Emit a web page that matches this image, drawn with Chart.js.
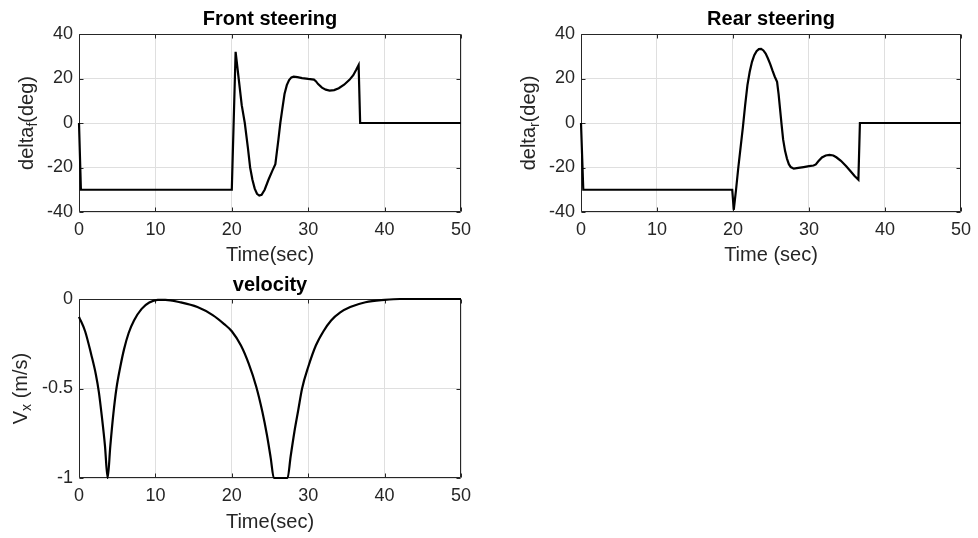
<!DOCTYPE html>
<html>
<head>
<meta charset="utf-8">
<script src="https://cdn.jsdelivr.net/npm/chart.js@4.4.1/dist/chart.umd.min.js"></script>
<style>
  html, body { margin: 0; padding: 0; background: #ffffff; }
  body { width: 978px; height: 538px; position: relative; overflow: hidden; }
  canvas { position: absolute; }
</style>
</head>
<body>
<canvas id="cFront" width="489" height="270" style="left:0;top:0;width:489px;height:270px"></canvas>
<canvas id="cRear" width="489" height="270" style="left:489px;top:0;width:489px;height:270px"></canvas>
<canvas id="cVel" width="489" height="268" style="left:0;top:270px;width:489px;height:268px"></canvas>
<script>
// ---------- data ----------
const timeFront  = [0, 0.25, 20, 20.5, 20.9, 21.3, 21.7, 22.1, 22.4, 22.7, 23.0, 23.3, 23.6, 23.9, 24.3, 24.8, 25.3, 25.7, 25.9, 26.1, 26.35, 26.6, 26.9, 27.2, 27.5, 27.8, 28.1, 28.6, 29.2, 30.0, 30.75, 31.0, 31.3, 31.8, 32.3, 32.8, 33.4, 34.0, 34.7, 35.4, 35.9, 36.3, 36.6, 36.8, 50];
const deltaFront = [0, -30, -30, 32, 20, 8, 0, -11, -20, -25.5, -29.5, -31.8, -32.6, -32.3, -30, -25.5, -21.5, -18.5, -13, -7.5, 0, 6, 13, 17, 19.3, 20.5, 20.8, 20.6, 20.2, 19.8, 19.5, 18.8, 17.5, 15.9, 15, 14.6, 14.8, 15.6, 17.2, 19.4, 21.5, 24, 26, 0, 0];

const timeRear  = [0, 0.3, 19.9, 20.1, 20.4, 20.7, 21.0, 21.3, 21.6, 21.9, 22.2, 22.5, 22.8, 23.1, 23.4, 23.7, 24.0, 24.3, 24.6, 24.9, 25.2, 25.5, 25.8, 26.0, 26.2, 26.4, 26.6, 26.85, 27.1, 27.35, 27.6, 28.0, 28.6, 29.3, 30.0, 30.6, 30.9, 31.2, 31.7, 32.2, 32.7, 33.2, 33.6, 34.2, 34.9, 35.5, 36.0, 36.5, 36.7, 50];
const deltaRear = [0, -30, -30, -39, -30, -20, -11, -2, 8, 17, 23, 27.5, 30.5, 32.3, 33.2, 33.3, 32.6, 31.2, 29, 26.5, 23.5, 20.8, 18.5, 13, 6, -1, -7.5, -12.5, -16, -18.5, -19.8, -20.5, -20.2, -19.8, -19.4, -19.1, -18.6, -17.3, -15.5, -14.6, -14.3, -14.6, -15.4, -17, -19.4, -21.8, -23.8, -25.5, 0, 0];

const timeVel  = [0, 0.8, 1.6, 2.2, 2.6, 3.0, 3.4, 3.75, 4.1, 4.5, 4.9, 5.4, 5.9, 6.5, 7.2, 8.2, 9.2, 10.3, 11.3, 13.2, 15.5, 17.5, 19, 20, 21.2, 22.2, 23.2, 24.0, 24.6, 25.1, 25.5, 27.3, 27.7, 28.2, 28.7, 29.2, 30.0, 31.0, 32.0, 33.0, 34.2, 35.5, 37.5, 40, 42, 50];
const velocity = [-0.1, -0.18, -0.31, -0.42, -0.52, -0.66, -0.82, -1.0, -0.82, -0.64, -0.5, -0.38, -0.28, -0.19, -0.12, -0.055, -0.02, -0.005, -0.005, -0.018, -0.045, -0.09, -0.14, -0.18, -0.26, -0.36, -0.49, -0.63, -0.76, -0.89, -1.0, -1.0, -0.88, -0.74, -0.62, -0.5, -0.38, -0.26, -0.18, -0.12, -0.075, -0.045, -0.018, -0.005, 0, 0];

const xTicks = [0, 10, 20, 30, 40, 50];
const steerTicks = [-40, -20, 0, 20, 40];
const velTicks = [-1, -0.5, 0];

const titles = ['Front steering', 'Rear steering', 'velocity'];
const xLabels = ['Time(sec)', 'Time (sec)', 'Time(sec)'];
const yLabelParts = [['delta', 'f', '(deg)'], ['delta', 'r', '(deg)'], ['V', 'x', ' (m/s)']];

// ---------- styling ----------
const FONT = "'Liberation Sans', Arial, Helvetica, sans-serif";
const TEXT = '#262626';
const GRID = '#dfdfdf';

const boxPlugin = {
  id: 'axbox',
  beforeDatasetsDraw(chart) {
    const { ctx, chartArea: a, scales } = chart;
    ctx.save();
    ctx.strokeStyle = TEXT;
    ctx.lineWidth = 1;
    const L = Math.round(a.left) + 0.5, R = Math.round(a.right) - 0.5;
    const T = Math.round(a.top) + 0.5, B = Math.round(a.bottom) - 0.5;
    ctx.beginPath();
    ctx.rect(L, T, R - L, B - T);
    const tl = 4;
    scales.x.ticks.forEach(t => {
      const px = Math.round(scales.x.getPixelForValue(t.value)) + 0.5;
      ctx.moveTo(px, B); ctx.lineTo(px, B - tl);
      ctx.moveTo(px, T); ctx.lineTo(px, T + tl);
    });
    scales.y.ticks.forEach(t => {
      const py = Math.round(scales.y.getPixelForValue(t.value)) + 0.5;
      ctx.moveTo(L, py); ctx.lineTo(L + tl, py);
      ctx.moveTo(R, py); ctx.lineTo(R - tl, py);
    });
    ctx.stroke();
    ctx.restore();
  }
};

const textPlugin = {
  id: 'axtext',
  afterDraw(chart, args, o) {
    const { ctx, chartArea: a } = chart;
    // title centred over the axes box
    ctx.save();
    ctx.fillStyle = '#000000';
    ctx.font = 'bold 20px ' + FONT;
    ctx.textAlign = 'center';
    ctx.textBaseline = 'middle';
    ctx.fillText(o.title, (a.left + a.right) / 2, o.titleY);
    ctx.restore();
    // y label with subscript
    const parts = o.parts;
    const cy = (a.top + a.bottom) / 2;
    const big = '20px ' + FONT, small = '14px ' + FONT;
    ctx.save();
    ctx.translate(o.x, cy);
    ctx.rotate(-Math.PI / 2);
    ctx.fillStyle = TEXT;
    ctx.textBaseline = 'middle';
    ctx.textAlign = 'left';
    ctx.font = big; const w0 = ctx.measureText(parts[0]).width; const w2 = ctx.measureText(parts[2]).width;
    ctx.font = small; const w1 = ctx.measureText(parts[1]).width;
    let x = -(w0 + w1 + w2) / 2;
    ctx.font = big; ctx.fillText(parts[0], x, 0); x += w0;
    ctx.font = small; ctx.fillText(parts[1], x, 6); x += w1;
    ctx.font = big; ctx.fillText(parts[2], x, 0);
    ctx.restore();
  }
};

function makeChart(id, xs, ys, cfg) {
  const pts = xs.map((x, i) => ({ x: x, y: ys[i] }));
  return new Chart(document.getElementById(id), {
    type: 'line',
    data: { datasets: [{
      data: pts,
      borderColor: '#000000',
      borderWidth: 2.2,
      pointRadius: 0,
      fill: false,
      clip: 3,
      tension: cfg.smooth ? 0.4 : 0,
      cubicInterpolationMode: cfg.smooth ? 'monotone' : 'default'
    }] },
    options: {
      responsive: false,
      animation: false,
      layout: { padding: { left: 0, right: cfg.padRight, top: cfg.padTop, bottom: 0 } },
      plugins: {
        legend: { display: false },
        tooltip: { enabled: false },
        title: { display: false },
        axtext: { title: cfg.title, titleY: cfg.titleY, parts: cfg.yParts, x: cfg.yLabelX }
      },
      scales: {
        x: {
          type: 'linear',
          min: 0, max: 50,
          afterBuildTicks: s => { s.ticks = xTicks.map(v => ({ value: v })); },
          afterFit: s => { s.height = cfg.xHeight; },
          grid: { color: GRID, lineWidth: 1, drawTicks: false },
          border: { display: false },
          ticks: { color: TEXT, font: { family: FONT, size: 18 }, padding: 7, maxRotation: 0,
                   callback: v => String(v) },
          title: {
            display: true,
            text: cfg.xLabel,
            color: TEXT,
            font: { family: FONT, size: 20, lineHeight: 1.2 },
            padding: { top: 0, bottom: cfg.xTitlePad }
          }
        },
        y: {
          type: 'linear',
          min: cfg.yMin, max: cfg.yMax,
          afterBuildTicks: s => { s.ticks = cfg.yTicks.map(v => ({ value: v })); },
          afterFit: s => { s.width = cfg.yWidth; },
          grid: { color: GRID, lineWidth: 1, drawTicks: false },
          border: { display: false },
          ticks: { color: TEXT, font: { family: FONT, size: 18 }, padding: 6,
                   callback: v => String(v) }
        }
      }
    },
    plugins: [boxPlugin, textPlugin]
  });
}

makeChart('cFront', timeFront, deltaFront, {
  title: titles[0], xLabel: xLabels[0], yParts: yLabelParts[0],
  yMin: -40, yMax: 40, yTicks: steerTicks,
  padRight: 28, padTop: 34, yWidth: 79, xHeight: 58, titleY: 19.5,
  xTitlePad: 3, yLabelX: 27, smooth: false
});
makeChart('cRear', timeRear, deltaRear, {
  title: titles[1], xLabel: xLabels[1], yParts: yLabelParts[1],
  yMin: -40, yMax: 40, yTicks: steerTicks,
  padRight: 15, padTop: 34, yWidth: 92, xHeight: 58, titleY: 19.5,
  xTitlePad: 3, yLabelX: 40, smooth: false
});
makeChart('cVel', timeVel, velocity, {
  title: titles[2], xLabel: xLabels[2], yParts: yLabelParts[2],
  yMin: -1, yMax: 0, yTicks: velTicks,
  padRight: 28, padTop: 29, yWidth: 79, xHeight: 60, titleY: 15.5,
  xTitlePad: 4, yLabelX: 21, smooth: true
});
</script>
</body>
</html>
